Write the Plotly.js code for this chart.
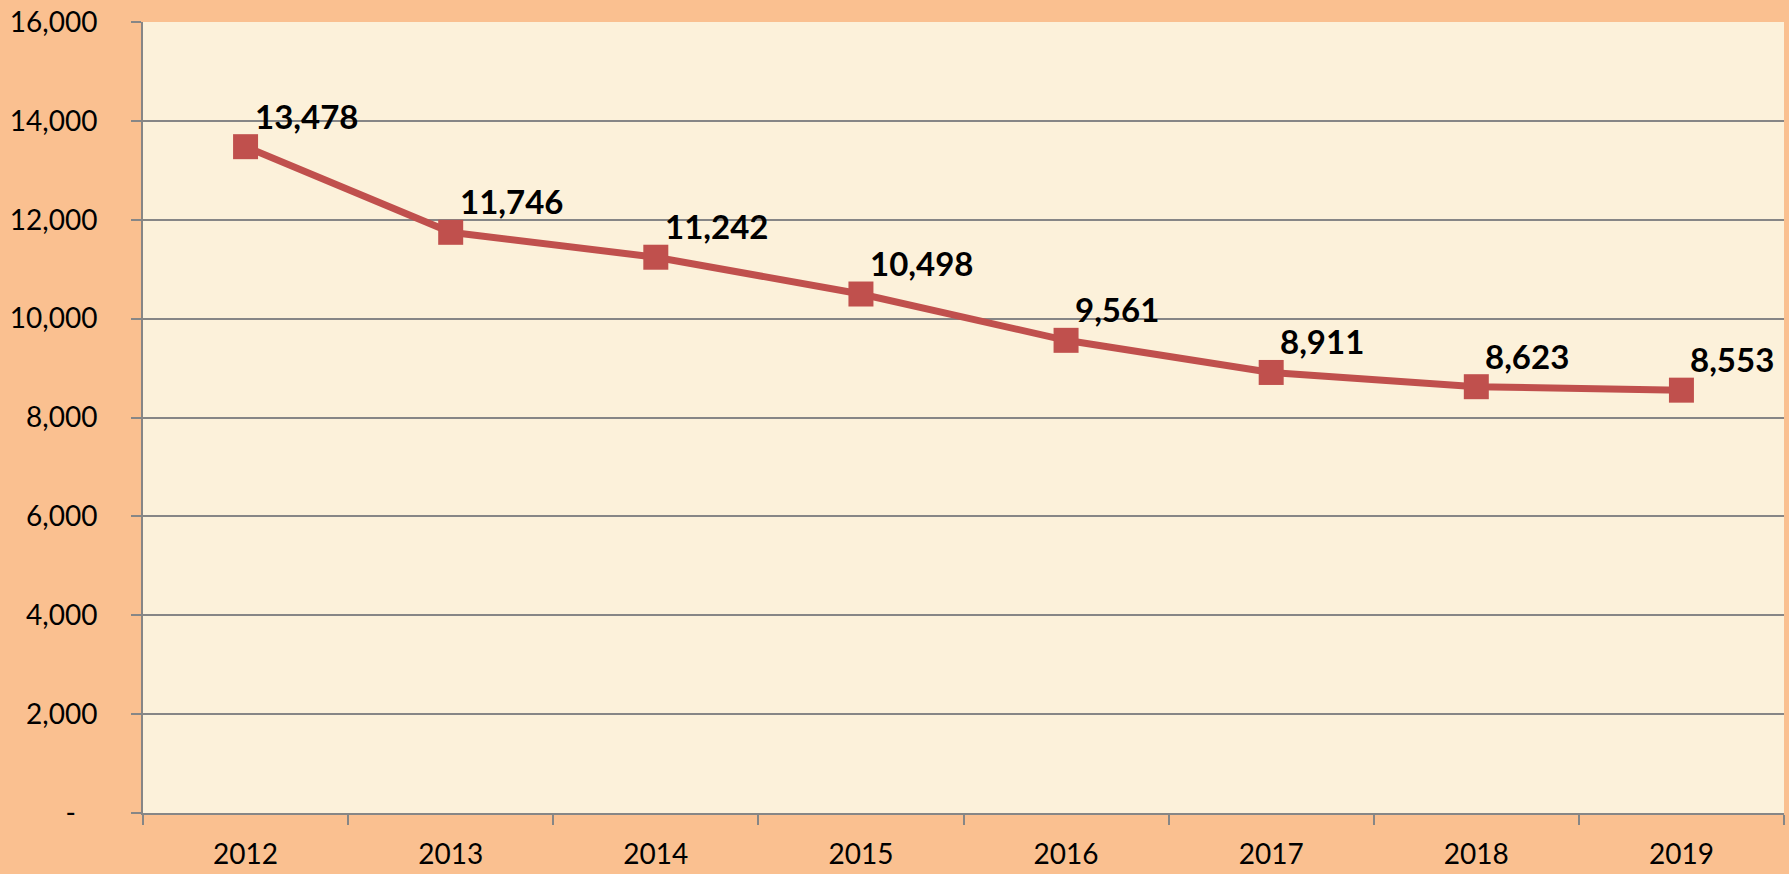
<!DOCTYPE html>
<html>
<head>
<meta charset="utf-8">
<script src="https://cdn.plot.ly/plotly-3.0.1.min.js"></script>
<style>
html,body{margin:0;padding:0;background:#FAC090;}
#chart{width:1789px;height:874px;}
</style>
</head>
<body>
<div id="chart"></div>
<script>
const years = ['2012','2013','2014','2015','2016','2017','2018','2019'];
const values = [13478, 11746, 11242, 10498, 9561, 8911, 8623, 8553];
const yTickVals = [0, 2000, 4000, 6000, 8000, 10000, 12000, 14000, 16000];
const yTickText = ['-\u00a0\u00a0\u00a0', '2,000', '4,000', '6,000', '8,000', '10,000', '12,000', '14,000', '16,000'];

const red = '#C0504D';
const grid = '#868686';

const trace = {
  x: years,
  y: values,
  type: 'scatter',
  mode: 'lines+markers',
  line: {color: red, width: 7},
  marker: {symbol: 'square', size: 25, color: red},
  hoverinfo: 'skip'
};

const annotations = years.map((yr, i) => ({
  x: i,
  y: values[i],
  xref: 'x',
  yref: 'y',
  text: '<b>' + values[i].toLocaleString('en-US') + '</b>',
  showarrow: false,
  xanchor: 'left',
  yanchor: 'bottom',
  xshift: 7,
  yshift: 9,
  font: {family: 'Lato, sans-serif', size: 33, color: '#000000'}
}));

const layout = {
  width: 1789,
  height: 874,
  paper_bgcolor: '#FAC090',
  plot_bgcolor: '#FCF1DA',
  margin: {l: 143, r: 5, t: 22, b: 61},
  showlegend: false,
  font: {family: 'Lato, sans-serif', color: '#000000'},
  xaxis: {
    type: 'category',
    range: [-0.5, 7.5],
    tickson: 'boundaries',
    ticks: 'outside',
    ticklen: 10,
    tickwidth: 2,
    tickcolor: grid,
    showline: true,
    linecolor: grid,
    linewidth: 2,
    showgrid: false,
    zeroline: false,
    tickfont: {family: 'Lato, sans-serif', size: 28, color: '#000000'},
    ticklabelstandoff: 15
  },
  yaxis: {
    range: [0, 16000],
    tickvals: yTickVals,
    ticktext: yTickText,
    ticks: 'outside',
    ticklen: 10,
    tickwidth: 2,
    tickcolor: grid,
    showline: true,
    linecolor: grid,
    linewidth: 2,
    showgrid: true,
    gridcolor: grid,
    gridwidth: 2,
    zeroline: false,
    tickfont: {family: 'Lato, sans-serif', size: 28, color: '#000000'},
    ticklabelstandoff: 28
  },
  annotations: annotations
};

Plotly.newPlot('chart', [trace], layout, {displayModeBar: false, staticPlot: true});
</script>
</body>
</html>
